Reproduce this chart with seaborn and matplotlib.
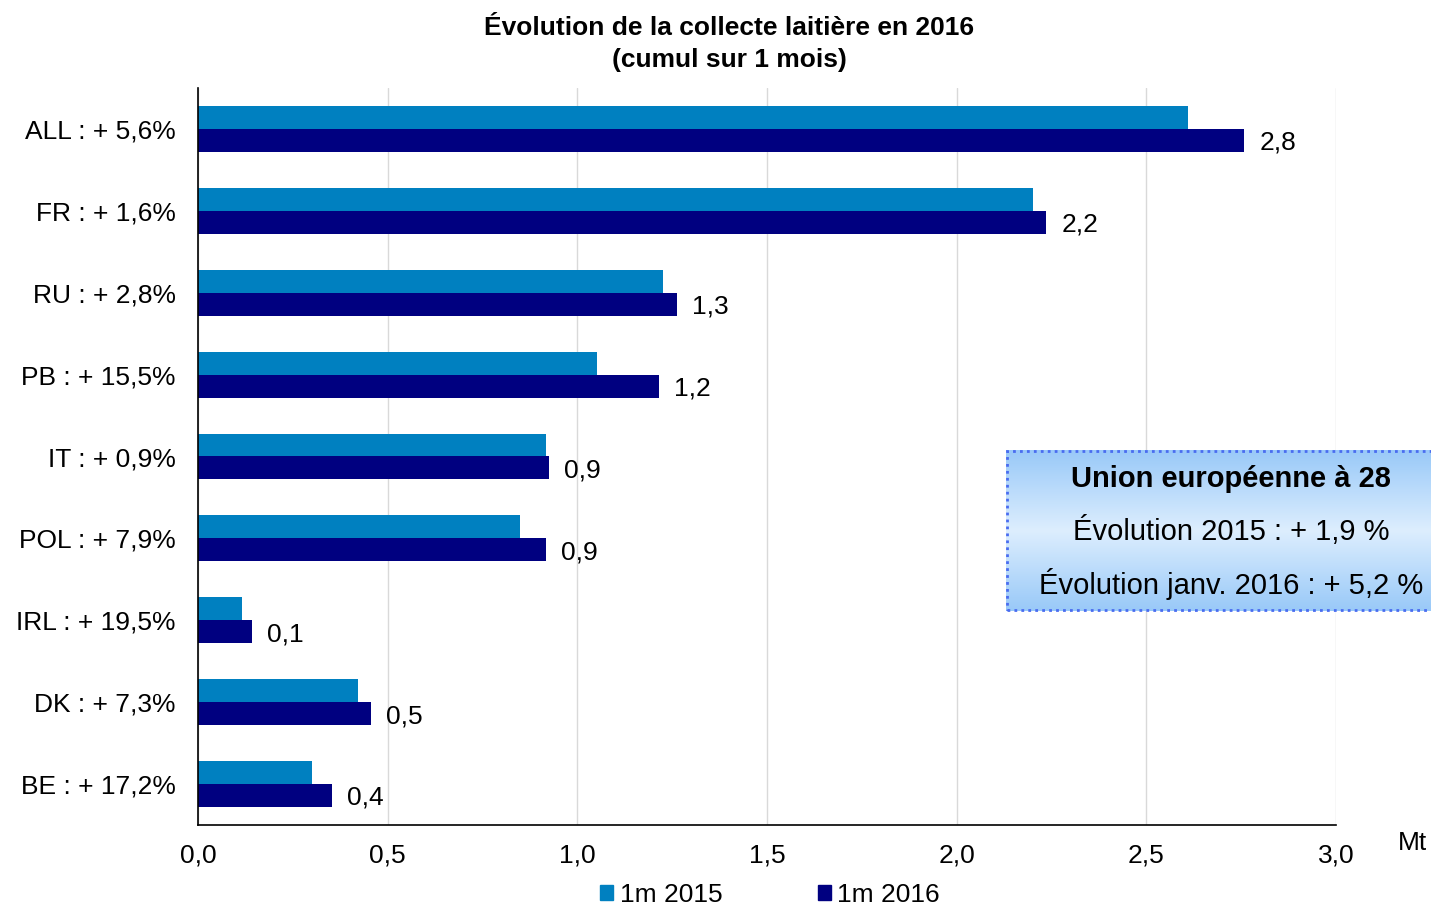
import numpy as np
import pandas as pd
import seaborn as sns
import matplotlib.pyplot as plt
from matplotlib.colors import LinearSegmentedColormap
from matplotlib.patches import Rectangle, Patch

pays = ["ALL : + 5,6%", "FR : + 1,6%", "RU : + 2,8%", "PB : + 15,5%", "IT : + 0,9%",
        "POL : + 7,9%", "IRL : + 19,5%", "DK : + 7,3%", "BE : + 17,2%"]
m2015 = [2.61, 2.20, 1.226, 1.052, 0.917, 0.849, 0.116, 0.422, 0.300]
m2016 = [2.758, 2.236, 1.263, 1.215, 0.925, 0.917, 0.142, 0.456, 0.353]
series = ["1m 2015", "1m 2016"]
couleurs = ["#0080C0", "#000080"]

df = pd.DataFrame({
    "pays": pays * 2,
    "valeur": m2015 + m2016,
    "serie": [series[0]] * len(pays) + [series[1]] * len(pays),
})

sns.set_style("white")
plt.rcParams["font.family"] = ["Liberation Sans", "DejaVu Sans"]
plt.rcParams["text.color"] = "black"
plt.rcParams["xtick.color"] = "black"
plt.rcParams["ytick.color"] = "black"

fs = 19
fig = plt.figure(figsize=(14.31, 9.06), dpi=100)
ax = fig.add_axes([198 / 1431, 1 - 825 / 906, (1336 - 198) / 1431, (825 - 88) / 906])

sns.barplot(data=df, y="pays", x="valeur", hue="serie", palette=couleurs,
            orient="h", width=0.56, gap=0, linewidth=0, saturation=1,
            legend=False, ax=ax)

# etiquettes 2016
for i, v in enumerate(m2016):
    ax.text(v + 0.04, i + 0.17, f"{v:.1f}".replace(".", ","), va="center", ha="left",
            fontsize=fs, color="black")

ax.set_xlim(0, 3.0)
ax.set_ylim(len(pays) - 0.5, -0.5)
ax.set_xticks(np.arange(0, 3.01, 0.5))
ax.set_xticklabels([f"{t:.1f}".replace(".", ",") for t in np.arange(0, 3.01, 0.5)], fontsize=fs)
ax.set_yticks(range(len(pays)))
ax.set_yticklabels(pays, fontsize=fs)
ax.set_yticks(np.arange(-0.5, len(pays)), minor=True)
ax.tick_params(axis="y", which="major", length=0, pad=16)
ax.tick_params(axis="y", which="minor", length=6, color="#808080", width=1)
ax.tick_params(axis="x", which="major", length=6, color="#808080", pad=7)
ax.xaxis.grid(True, color="#D9D9D9", linewidth=1)
ax.set_axisbelow(True)
ax.set_xlabel("")
ax.set_ylabel("")
for s in ["top", "right"]:
    ax.spines[s].set_visible(False)
for s in ["left", "bottom"]:
    ax.spines[s].set_color("black")
    ax.spines[s].set_linewidth(1.2)

fig.text(729 / 1431, 1 - 44 / 906, "Évolution de la collecte laitière en 2016\n(cumul sur 1 mois)",
         ha="center", va="center", fontsize=fs, fontweight="bold", linespacing=1.38)
fig.text(1413 / 1431, 1 - 843 / 906, "Mt", ha="center", va="center", fontsize=fs)

handles = [Patch(color=c, label=s) for c, s in zip(couleurs, series)]
fig.legend(handles=handles, loc="center", bbox_to_anchor=(770 / 1431, 1 - 895 / 906),
           ncol=2, frameon=False, fontsize=fs, handlelength=0.5, handleheight=0.5,
           handletextpad=0.25, columnspacing=3.6)

# encadre UE 28
box = fig.add_axes([1006 / 1431, 1 - 611 / 906, (1431 - 1006) / 1431, (611 - 450) / 906])
cmap = LinearSegmentedColormap.from_list("ue", ["#99C9F8", "#DDEEFE", "#99C9F8"])
grad = np.linspace(0, 1, 200).reshape(-1, 1)
box.imshow(grad, aspect="auto", cmap=cmap, extent=[0, 1, 0, 1])
box.set_xlim(0, 1)
box.set_ylim(0, 1)
box.axis("off")
box.add_patch(Rectangle((0.003, 0.005), 1.2, 0.99, fill=False, edgecolor="#4A6CF0",
                        linestyle=(0, (1, 1.5)), linewidth=2, clip_on=False))
box.text(0.53, 0.82, "Union européenne à 28", ha="center", va="center", fontsize=21,
         fontweight="bold")
box.text(0.53, 0.50, "Évolution 2015 : + 1,9 %", ha="center", va="center", fontsize=21)
box.text(0.53, 0.17, "Évolution janv. 2016 : + 5,2 %", ha="center", va="center", fontsize=21)

fig.savefig("out.png", dpi=100)
